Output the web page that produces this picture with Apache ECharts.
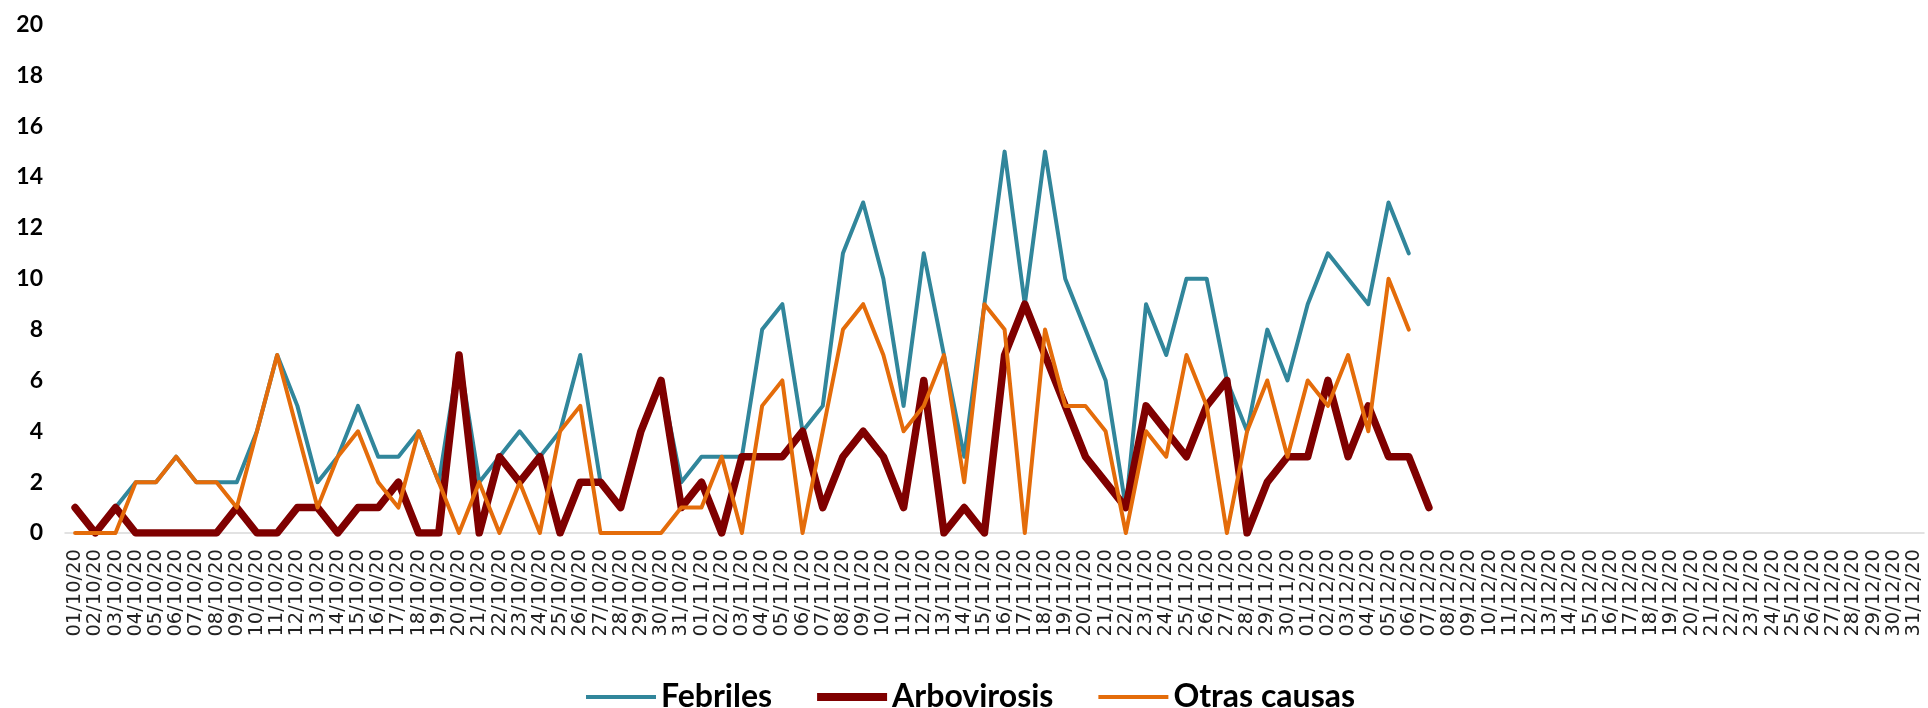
<!DOCTYPE html>
<html>
<head>
<meta charset="utf-8">
<script src="https://cdn.jsdelivr.net/npm/echarts@6/dist/echarts.min.js"></script>
<style>
  html, body { margin: 0; padding: 0; background: #fff; }
  #chart { width: 1928px; height: 708px; }
</style>
</head>
<body>
<div id="chart"></div>
<script>
// daily categories, 01/10/20 .. 31/12/20
const dates = [
  "01/10/20","02/10/20","03/10/20","04/10/20","05/10/20","06/10/20","07/10/20","08/10/20","09/10/20","10/10/20",
  "11/10/20","12/10/20","13/10/20","14/10/20","15/10/20","16/10/20","17/10/20","18/10/20","19/10/20","20/10/20",
  "21/10/20","22/10/20","23/10/20","24/10/20","25/10/20","26/10/20","27/10/20","28/10/20","29/10/20","30/10/20",
  "31/10/20","01/11/20","02/11/20","03/11/20","04/11/20","05/11/20","06/11/20","07/11/20","08/11/20","09/11/20",
  "10/11/20","11/11/20","12/11/20","13/11/20","14/11/20","15/11/20","16/11/20","17/11/20","18/11/20","19/11/20",
  "20/11/20","21/11/20","22/11/20","23/11/20","24/11/20","25/11/20","26/11/20","27/11/20","28/11/20","29/11/20",
  "30/11/20","01/12/20","02/12/20","03/12/20","04/12/20","05/12/20","06/12/20","07/12/20","08/12/20","09/12/20",
  "10/12/20","11/12/20","12/12/20","13/12/20","14/12/20","15/12/20","16/12/20","17/12/20","18/12/20","19/12/20",
  "20/12/20","21/12/20","22/12/20","23/12/20","24/12/20","25/12/20","26/12/20","27/12/20","28/12/20","29/12/20",
  "30/12/20","31/12/20"
];

const febriles = [
  1,0,1,2,2,3,2,2,2,4,7,5,2,3,5,3,3,4,
  2,7,2,3,4,3,4,7,2,1,4,6,2,3,3,3,8,9,4,5,
  11,13,10,5,11,7,3,9,15,9,15,10,8,6,1,9,7,10,10,
  6,4,8,6,9,11,10,9,13,11
];

const arbovirosis = [
  1,0,1,0,0,0,0,0,1,0,0,1,1,0,1,1,2,0,
  0,7,0,3,2,3,0,2,2,1,4,6,1,2,0,3,3,3,4,1,
  3,4,3,1,6,0,1,0,7,9,7,5,3,2,1,5,4,3,5,
  6,0,2,3,3,6,3,5,3,3,1
];

const otrasCausas = [
  0,0,0,2,2,3,2,2,1,4,7,4,1,3,4,2,1,4,
  2,0,2,0,2,0,4,5,0,0,0,0,1,1,3,0,5,6,0,4,
  8,9,7,4,5,7,2,9,8,0,8,5,5,4,0,4,3,7,5,
  0,4,6,3,6,5,7,4,10,8
];

const chart = echarts.init(document.getElementById("chart"));

function lineSeries(name, data, color, width) {
  return {
    name: name,
    type: "line",
    data: data,
    symbol: "none",
    animation: false,
    itemStyle: { color: color },
    lineStyle: { color: color, width: width, cap: "round", join: "round" }
  };
}

const option = {
  backgroundColor: "#fff",
  grid: { left: 65, right: 4, top: 24.5, bottom: 175, containLabel: false },
  legend: {
    left: 581,
    top: 676,
    itemWidth: 70,
    itemHeight: 16,
    itemGap: 45,
    textStyle: {
      fontFamily: "Lato",
      fontWeight: "bold",
      fontSize: 32,
      color: "#000",
      lineHeight: 32
    },
    data: [
      { name: "Febriles", icon: "path://M0 0H70V4H0Z" },
      { name: "Arbovirosis", icon: "path://M0 0H70V8H0Z" },
      { name: "Otras causas", icon: "path://M0 0H70V4H0Z" }
    ]
  },
  xAxis: {
    type: "category",
    data: dates,
    boundaryGap: true,
    axisTick: { show: false },
    axisLine: { lineStyle: { color: "#d9d9d9", width: 1.5 } },
    axisLabel: {
      interval: 0,
      rotate: 90,
      margin: 16,
      fontFamily: "DejaVu Sans",
      fontSize: 19.5,
      color: "#222"
    },
    splitLine: { show: false }
  },
  yAxis: {
    type: "value",
    min: 0,
    max: 20,
    interval: 2,
    axisLine: { show: false },
    axisTick: { show: false },
    splitLine: { show: false },
    axisLabel: {
      margin: 22,
      fontFamily: "Lato",
      fontWeight: "bold",
      fontSize: 23,
      color: "#000"
    }
  },
  series: [
    lineSeries("Febriles", febriles, "#31869b", 4),
    lineSeries("Arbovirosis", arbovirosis, "#7f0000", 7.5),
    lineSeries("Otras causas", otrasCausas, "#e46c0a", 4)
  ]
};

chart.setOption(option);
</script>
</body>
</html>
